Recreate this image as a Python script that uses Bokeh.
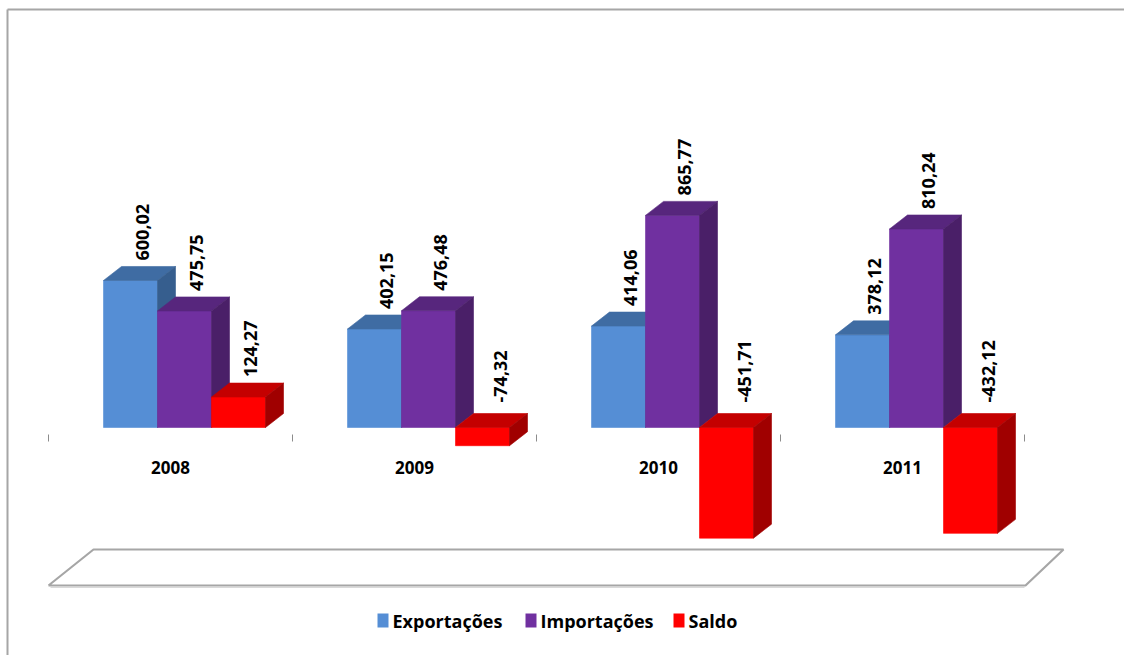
import numpy as np
from bokeh.plotting import figure
from bokeh.models import ColumnDataSource, Range1d
from bokeh.core.properties import value
from bokeh.embed import file_html
from bokeh.resources import INLINE

# ---------------- data ----------------
years = ["2008", "2009", "2010", "2011"]
series_names = ["Exportações", "Importações", "Saldo"]
exportacoes = [600.02, 402.15, 414.06, 378.12]
importacoes = [475.75, 476.48, 865.77, 810.24]
saldo = [124.27, -74.32, -451.71, -432.12]

# ---------------- styles ----------------
front_colors = ["#558ED5", "#7030A0", "#FF0000"]
top_colors = ["#3F6CA3", "#57267D", "#C40000"]
side_colors = ["#365E8E", "#4A1F68", "#A00000"]
FONT = value("Open Sans")

W, H = 1124, 655
# screen mapping (pixels) -> data units
C0_PX, STEP_PX = 170.0, 244.0   # category centre, spacing
Y0_PX, PX_PER_UNIT = 427.0, 0.245


def X(px):
    return (px - C0_PX) / STEP_PX


def Y(py):
    return (Y0_PX - py) / PX_PER_UNIT


def dxp(px):
    return px / STEP_PX


def dyp(px):
    return px / PX_PER_UNIT


p = figure(width=W, height=H, output_backend="svg", toolbar_location=None,
           x_range=Range1d(X(0), X(W)), y_range=Range1d(Y(H), Y(0)),
           x_axis_location=None, y_axis_location=None, min_border=0,
           outline_line_color=None, background_fill_color="white",
           border_fill_color="white")
p.grid.visible = False

# outer chart frame (top and left edges)
p.line([X(7), X(W + 5)], [Y(9), Y(9)], line_color="#A6A6A6", line_width=2)
p.line([X(7), X(7)], [Y(9), Y(H + 5)], line_color="#A6A6A6", line_width=2)

# floor parallelogram
fx = [X(48), X(93), X(1063), X(1025), X(48)]
fy = [Y(585), Y(549), Y(549), Y(585), Y(585)]
p.line(fx, fy, line_color="#A6A6A6", line_width=2.2)
p.line([X(50), X(1024)], [Y(587), Y(587)], line_color="#D9D9D9", line_width=1)

# category ticks
for k in range(len(years) + 1):
    xt = k - 0.5
    p.line([xt, xt], [Y(434), Y(441)], line_color="#8C8C8C", line_width=1)

# ---------------- 3D bars ----------------
BAR_OFF = dxp(-67)
BAR_W = dxp(54)
DX = dxp(18)
DY = dyp(14)

xs, ys, fills = [], [], []
lab_x, lab_y, lab_t = [], [], []
all_series = [exportacoes, importacoes, saldo]
for i in range(len(years)):
    for j, ser in enumerate(all_series):
        v = ser[i]
        xl = i + BAR_OFF + j * BAR_W
        xr = xl + BAR_W
        yb, yt = min(0.0, v), max(0.0, v)
        # front
        xs.append([xl, xr, xr, xl]); ys.append([yb, yb, yt, yt]); fills.append(front_colors[j])
        # top
        xs.append([xl, xr, xr + DX, xl + DX]); ys.append([yt, yt, yt + DY, yt + DY]); fills.append(top_colors[j])
        # side
        xs.append([xr, xr + DX, xr + DX, xr]); ys.append([yb, yb + DY, yt + DY, yt]); fills.append(side_colors[j])
        # label
        xc = (xl + xr) / 2
        if v >= 0:
            lab_x.append(xc + dxp(12)); lab_y.append(yt + DY + dyp(6))
        else:
            lab_x.append(xc + dxp(18)); lab_y.append(DY + dyp(11))
        lab_t.append(f"{v:.2f}".replace(".", ","))

src = ColumnDataSource(dict(xs=xs, ys=ys, fill=fills))
p.patches("xs", "ys", source=src, fill_color="fill", line_color="fill", line_width=0.6)

p.text(x=lab_x, y=lab_y, text=lab_t, angle=np.pi / 2, text_align="left",
       text_baseline="middle", text_font=FONT, text_font_style="bold",
       text_font_size="18px", text_color="black")

# category labels
p.text(x=list(range(len(years))), y=[Y(467)] * len(years), text=years,
       text_align="center", text_baseline="middle", text_font=FONT,
       text_font_style="bold", text_font_size="17px", text_color="black")

# ---------------- legend ----------------
leg_sq_px = [377, 525, 673]
p.quad(left=[X(a) for a in leg_sq_px], right=[X(a + 11) for a in leg_sq_px],
       bottom=[Y(627)] * 3, top=[Y(613)] * 3, fill_color=front_colors, line_color=None)
p.text(x=[X(a + 15) for a in leg_sq_px], y=[Y(620)] * 3, text=series_names,
       text_align="left", text_baseline="middle", text_font=FONT,
       text_font_style="bold", text_font_size="18px", text_color="black")

open("out.html", "w").write(file_html(p, INLINE))
